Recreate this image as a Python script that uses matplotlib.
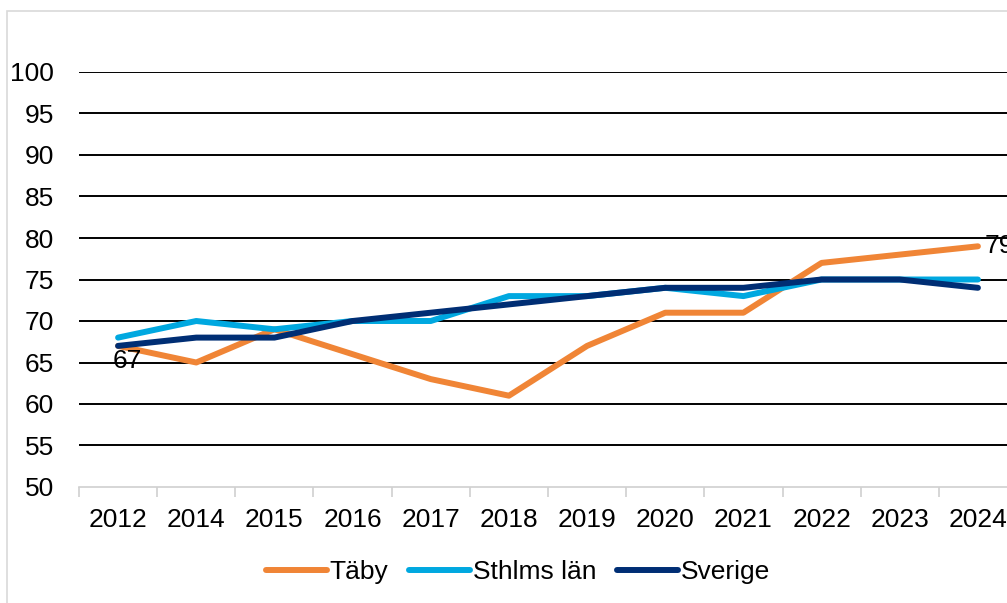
import matplotlib
matplotlib.use("Agg")
import matplotlib.pyplot as plt
from matplotlib.patches import Rectangle

years = ["2012", "2014", "2015", "2016", "2017", "2018",
         "2019", "2020", "2021", "2022", "2023", "2024"]
taby = [67, 65, 69, 66, 63, 61, 67, 71, 71, 77, 78, 79]
sthlm = [68, 70, 69, 70, 70, 73, 73, 74, 73, 75, 75, 75]
sverige = [67, 68, 68, 70, 71, 72, 73, 74, 74, 75, 75, 74]
yticks = list(range(50, 101, 5))

plt.rcParams['font.family'] = ['Liberation Sans', 'DejaVu Sans']
fs = 19

W, H = 1007, 603
fig = plt.figure(figsize=(W/100, H/100), dpi=100)
# axes spans x 79..1017 px, y 72..487 px (top at value 100)
ax = fig.add_axes([79/W, (H-487)/H, (1017-79)/W, (487-72)/H])

# light grey frame around the chart area
fig.patches.append(Rectangle((7/W, -0.1), 1.2, (H-11)/H + 0.1,
                             transform=fig.transFigure, fill=False,
                             edgecolor="#d9d9d9", linewidth=1.2))

x = list(range(len(years)))
ax.plot(x, taby, color="#F08536", lw=4.3, label="Täby",
        solid_capstyle="round", zorder=3)
ax.plot(x, sthlm, color="#00A8E0", lw=4.3, label="Sthlms län",
        solid_capstyle="round", zorder=4)
ax.plot(x, sverige, color="#002E74", lw=4.3, label="Sverige",
        solid_capstyle="round", zorder=5)

ax.set_xlim(-0.5, len(years) - 0.5)
ax.set_ylim(50, 100)
ax.set_yticks(yticks)
for v in yticks[1:]:
    ax.axhline(v, color="black", lw=1.4, zorder=1)

ax.set_xticks(x)
ax.set_xticklabels(years)
ax.set_xticks([i - 0.5 for i in range(len(years) + 1)], minor=True)
ax.tick_params(axis="x", which="major", length=0, pad=15, labelsize=fs)
ax.tick_params(axis="x", which="minor", length=7, color="#d0d0d0", width=1.2)
ax.tick_params(axis="y", length=0, pad=18, labelsize=fs)

for s in ["top", "right", "left"]:
    ax.spines[s].set_visible(False)
ax.spines["bottom"].set_color("#d0d0d0")
ax.spines["bottom"].set_linewidth(1.2)

ax.annotate(str(taby[0]), (x[0], taby[0]), xytext=(-4, -2),
            textcoords="offset points", ha="left", va="top", fontsize=fs)
ax.annotate(str(taby[-1]), (x[-1], taby[-1]), xytext=(5, 0),
            textcoords="offset points", ha="left", va="center", fontsize=fs,
            annotation_clip=False)

fig.legend(loc="center", bbox_to_anchor=(518/W, (H-572)/H), ncol=3,
           frameon=False, fontsize=fs, handlelength=2.3,
           handletextpad=0.1, columnspacing=0.8)

fig.savefig("out.png", dpi=100)
